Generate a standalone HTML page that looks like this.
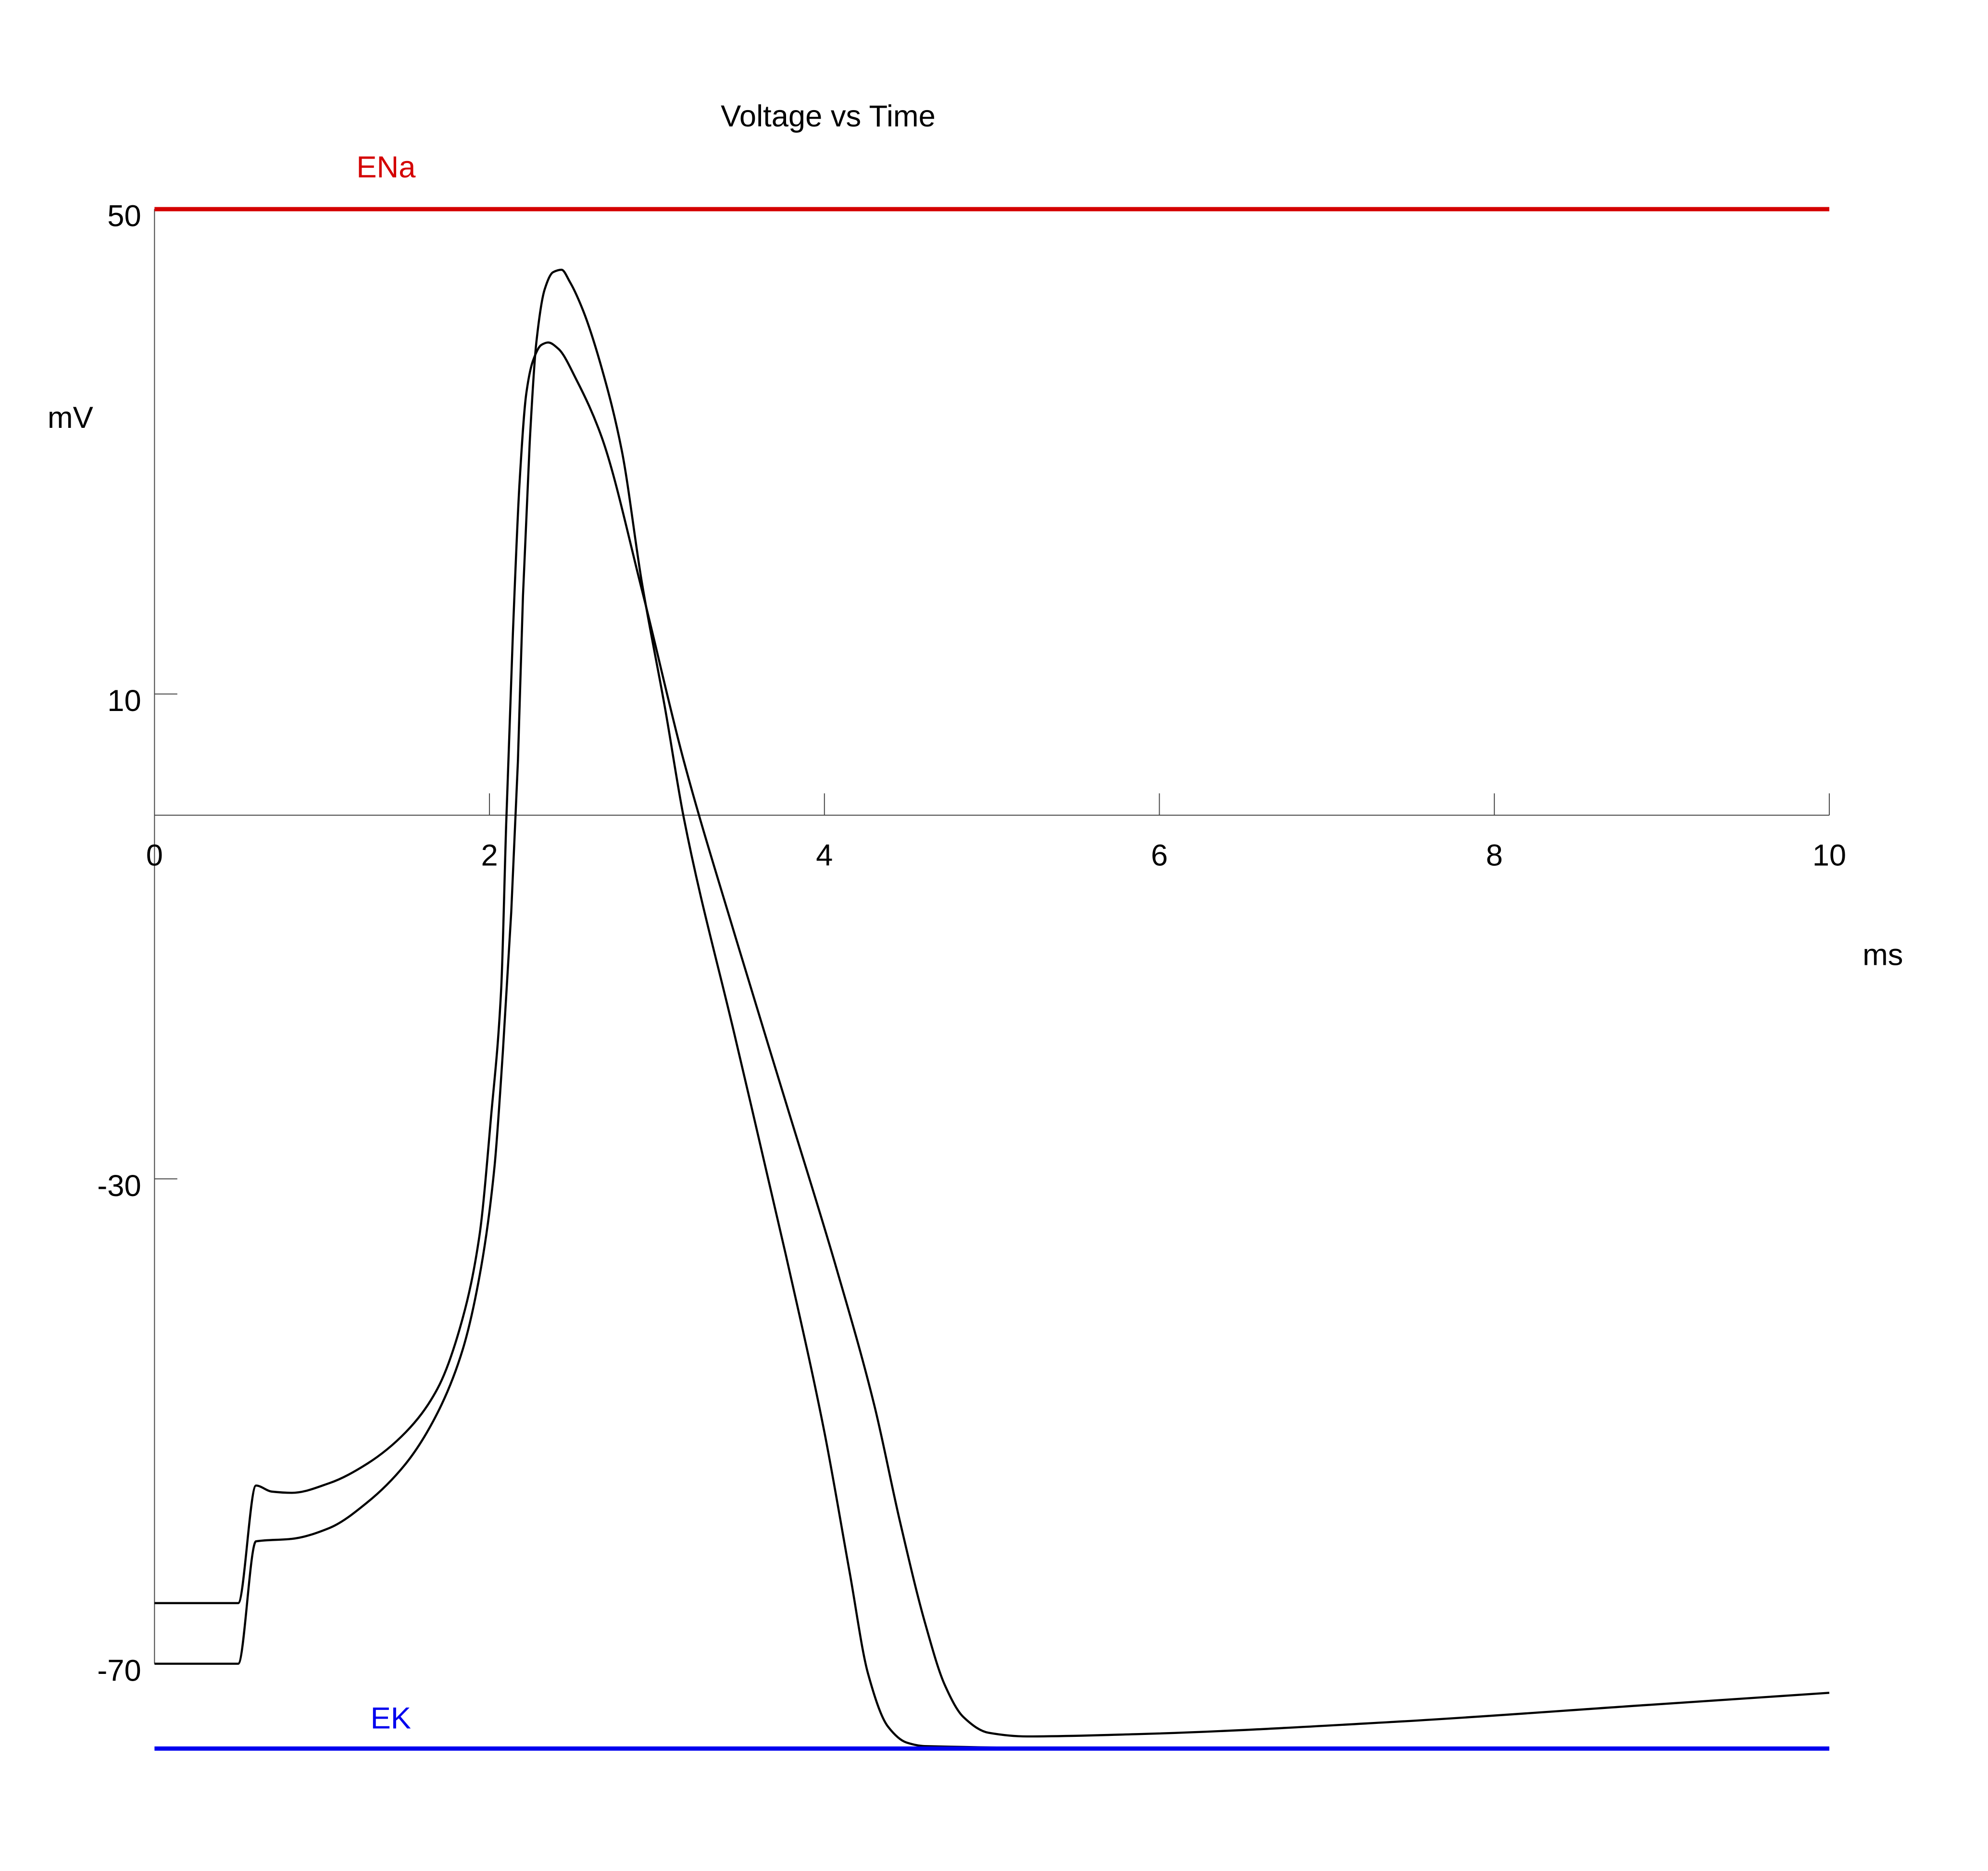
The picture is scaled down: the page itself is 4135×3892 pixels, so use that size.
<!DOCTYPE html>
<html><head><meta charset="utf-8"><style>
html,body{margin:0;padding:0;background:#fff;}
svg{display:block;font-family:"Liberation Sans",sans-serif;}
</style></head><body>
<svg id="chart" width="4135" height="3892" viewBox="0 0 4135 3892" xmlns="http://www.w3.org/2000/svg">
<g transform="scale(0.9888)">
<g id="axes"></g>
<g id="series"></g>
<text x="1742" y="266" font-size="64" text-anchor="middle">Voltage vs Time</text>
<text x="100" y="900" font-size="64">mV</text>
<text x="3918" y="2030" font-size="64">ms</text>
</g>
</svg>
<script>
const xTicks=[0,2,4,6,8,10];
const yTicks=[50,10,-30,-70];
const ENa=50;
const EK=-77;
const tA=[0,0.5,0.606,0.82,1.045,1.27,1.5,1.69,1.84,1.95,2.03,2.08,2.13,2.17,2.2,2.24,2.28,2.33,2.38,2.43,2.48,2.56,2.67,2.79,2.91,3.05,3.16,3.47,3.77,4.0,4.15,4.26,4.38,4.49,4.6,6,10];
const vA=[-70,-70,-59.9,-59.7,-58.8,-56.7,-53.5,-49.3,-44.1,-37.3,-29.0,-19.5,-8.0,4.5,18.1,30.7,39.0,43.4,44.8,45.0,44.0,41.6,36.9,30.1,19.2,8.7,-0.2,-18.5,-36.3,-50.9,-62.4,-70.8,-75.2,-76.5,-76.8,-77,-77];
const tB=[0,0.5,0.606,0.7,0.82,1.045,1.27,1.5,1.69,1.84,1.94,2.01,2.07,2.1,2.14,2.18,2.22,2.26,2.31,2.35,2.41,2.52,2.67,2.91,3.16,3.47,3.77,4.07,4.3,4.45,4.6,4.72,4.83,4.98,5.21,5.89,7.4,8.92,10];
const vB=[-65,-65,-55.3,-55.8,-55.9,-55.1,-53.5,-50.9,-47.3,-41.5,-34.7,-24.8,-14.3,-0.7,15.0,27.5,34.8,37.5,38.8,39.0,38.5,35.9,31.2,18.6,4.5,-10.1,-23.7,-37.3,-48.8,-58.2,-66.6,-71.8,-74.4,-75.7,-76.0,-75.8,-74.8,-73.4,-72.4];

const NS="http://www.w3.org/2000/svg";
const X=t=>325+t*352.3;
const Y=v=>440+(50-v)*25.5;
const axes=document.getElementById('axes');
const series=document.getElementById('series');
function mk(tag,attrs,parent){const e=document.createElementNS(NS,tag);for(const k in attrs)e.setAttribute(k,attrs[k]);parent.appendChild(e);return e;}

let e=mk('line',{x1:X(0),y1:Y(50),x2:X(0),y2:Y(-70),stroke:'#444','stroke-width':2},axes);


e=mk('line',{x1:X(0),y1:Y(0),x2:X(10),y2:Y(0),stroke:'#444','stroke-width':2},axes);


xTicks.forEach(t=>{
  if(t>0){const l=mk('line',{x1:X(t),y1:Y(0),x2:X(t),y2:Y(0)-46,stroke:'#444','stroke-width':2},axes);
  
  }
  const tx=mk('text',{x:X(t),y:Y(0)+106,'font-size':64,'text-anchor':'middle'},axes);
  tx.textContent=t;
  
  
});
yTicks.forEach(v=>{
  const l=mk('line',{x1:X(0),y1:Y(v),x2:X(0)+48,y2:Y(v),stroke:'#444','stroke-width':2},axes);
  
  
  const tx=mk('text',{x:X(0)-28,y:Y(v)+36,'font-size':64,'text-anchor':'end'},axes);
  tx.textContent=v;
  
  
});
// monotone cubic (Fritsch-Carlson) path
function path(ts,vs){
  const xs=ts.map(X), ys=vs.map(Y), n=xs.length;
  const d=[],m=new Array(n);
  for(let i=0;i<n-1;i++)d.push((ys[i+1]-ys[i])/(xs[i+1]-xs[i]));
  m[0]=d[0];m[n-1]=d[n-2];
  for(let i=1;i<n-1;i++){
    if(d[i-1]*d[i]<=0)m[i]=0;
    else{const h0=xs[i]-xs[i-1],h1=xs[i+1]-xs[i];
      m[i]=3*(h0+h1)/((2*h1+h0)/d[i-1]+(h1+2*h0)/d[i]);}
  }
  let s='M'+xs[0].toFixed(1)+' '+ys[0].toFixed(1);
  for(let i=0;i<n-1;i++){
    const h=(xs[i+1]-xs[i])/3;
    s+=' C'+(xs[i]+h).toFixed(1)+' '+(ys[i]+m[i]*h).toFixed(1)+' '+(xs[i+1]-h).toFixed(1)+' '+(ys[i+1]-m[i+1]*h).toFixed(1)+' '+xs[i+1].toFixed(1)+' '+ys[i+1].toFixed(1);
  }
  return s;
}
e=mk('path',{d:path(tA,vA),fill:'none',stroke:'#000','stroke-width':4.5,'stroke-linejoin':'round'},series);


e=mk('path',{d:path(tB,vB),fill:'none',stroke:'#000','stroke-width':4.5,'stroke-linejoin':'round'},series);


e=mk('line',{x1:X(0),y1:Y(ENa),x2:X(10),y2:Y(ENa),stroke:'#d40000','stroke-width':9},series);


e=mk('line',{x1:X(0),y1:Y(EK),x2:X(10),y2:Y(EK),stroke:'#0000ee','stroke-width':9},series);


e=mk('text',{x:812,y:373,'font-size':64,fill:'#d40000','text-anchor':'middle'},series);
e.textContent='ENa';


e=mk('text',{x:822,y:3636,'font-size':64,fill:'#0000ee','text-anchor':'middle'},series);
e.textContent='EK';


</script>
</body></html>
